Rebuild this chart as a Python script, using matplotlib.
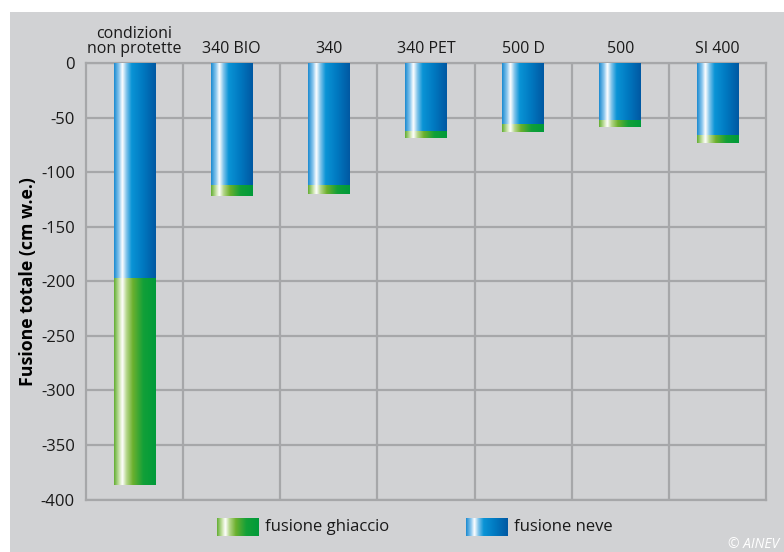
import numpy as np
import matplotlib
matplotlib.use('Agg')
from matplotlib import pyplot as plt
from matplotlib.colors import LinearSegmentedColormap
from matplotlib.patches import Rectangle

# data (cm w.e.)
categories = ['condizioni\nnon protette', '340 BIO', '340', '340 PET', '500 D', '500', 'SI 400']
fusione_neve = [197, 112, 112, 62, 56, 52, 66]
fusione_ghiaccio = [190, 10, 8, 7, 7, 7, 7]
yticks = [0, -50, -100, -150, -200, -250, -300, -350, -400]

plt.rcParams['font.family'] = ['Open Sans', 'DejaVu Sans']

blue_cm = LinearSegmentedColormap.from_list('neve', [
    (0.0, '#1a8ad0'), (0.12, '#8cc8ee'), (0.2, '#ffffff'), (0.3, '#7cc2ea'),
    (0.42, '#0a94d6'), (0.7, '#0078c0'), (1.0, '#0058a2')])
green_cm = LinearSegmentedColormap.from_list('ghiaccio', [
    (0.0, '#62ad32'), (0.12, '#c8e2a8'), (0.2, '#ffffff'), (0.3, '#b4d68a'),
    (0.45, '#6cb02e'), (0.7, '#12a038'), (1.0, '#009a3a')])
grad = np.linspace(0, 1, 256).reshape(1, -1)

bg = '#d1d2d4'
gridc = '#a6a7a9'

fig = plt.figure(figsize=(7.84, 5.52), dpi=100, facecolor='white')
fig.patches.append(Rectangle((10 / 784, 0), 1, (552 - 12) / 552, transform=fig.transFigure,
                             facecolor=bg, edgecolor='none', zorder=-10))

ax = fig.add_axes([86 / 784, 52.5 / 552, 680 / 784, 436.5 / 552])
ax.set_facecolor(bg)

x = np.arange(len(categories))
w = 0.43
neve = -np.array(fusione_neve, dtype=float)
ghiaccio = -np.array(fusione_ghiaccio, dtype=float)

bars_n = ax.bar(x, neve, w, color='none', edgecolor='none', zorder=3)
bars_g = ax.bar(x, ghiaccio, w, bottom=neve, color='none', edgecolor='none', zorder=3)

for bars, cm in ((bars_n, blue_cm), (bars_g, green_cm)):
    for b in bars:
        x0, y0 = b.get_x(), b.get_y()
        x1, y1 = x0 + b.get_width(), y0 + b.get_height()
        im = ax.imshow(grad, cmap=cm, aspect='auto', extent=(x0, x1, min(y0, y1), max(y0, y1)),
                       zorder=3, interpolation='bilinear')
        im.set_clip_path(b)

ax.set_xlim(-0.5, len(categories) - 0.5)
ax.set_ylim(-400, 0)
ax.set_yticks(yticks)
ax.set_yticklabels([str(v) for v in yticks], fontsize=12, color='#1a1a1a')
ax.set_xticks(x)
ax.set_xticklabels(categories, fontsize=11.5, color='#1a1a1a', linespacing=0.95)
ax.xaxis.tick_top()
ax.set_xticks(x[:-1] + 0.5, minor=True)
ax.tick_params(axis='both', which='both', length=0)
ax.tick_params(axis='y', pad=8)
ax.tick_params(axis='x', pad=4)
ax.grid(True, axis='y', which='major', color=gridc, linewidth=1.6, zorder=1)
ax.grid(True, axis='x', which='minor', color=gridc, linewidth=1.6, zorder=1)
ax.set_axisbelow(True)
for s in ax.spines.values():
    s.set_color(gridc)
    s.set_linewidth(1.6)

ax.set_ylabel('Fusione totale (cm w.e.)', fontsize=12.8, fontweight='bold', labelpad=3)

# legend swatches
for (lx, cm, label) in ((217, green_cm, 'fusione ghiaccio'), (466, blue_cm, 'fusione neve')):
    sw = fig.add_axes([lx / 784, (552 - 536) / 552, 42 / 784, 18 / 552])
    sw.imshow(grad, cmap=cm, aspect='auto', interpolation='bilinear')
    sw.axis('off')
    fig.text((lx + 48) / 784, (552 - 527) / 552, label, fontsize=12, color='#1a1a1a', va='center')

fig.text(728 / 784, (552 - 545) / 552, '© AINEV', fontsize=10, color='white', style='italic', va='center')

plt.savefig('out.png', dpi=100, facecolor='white')
